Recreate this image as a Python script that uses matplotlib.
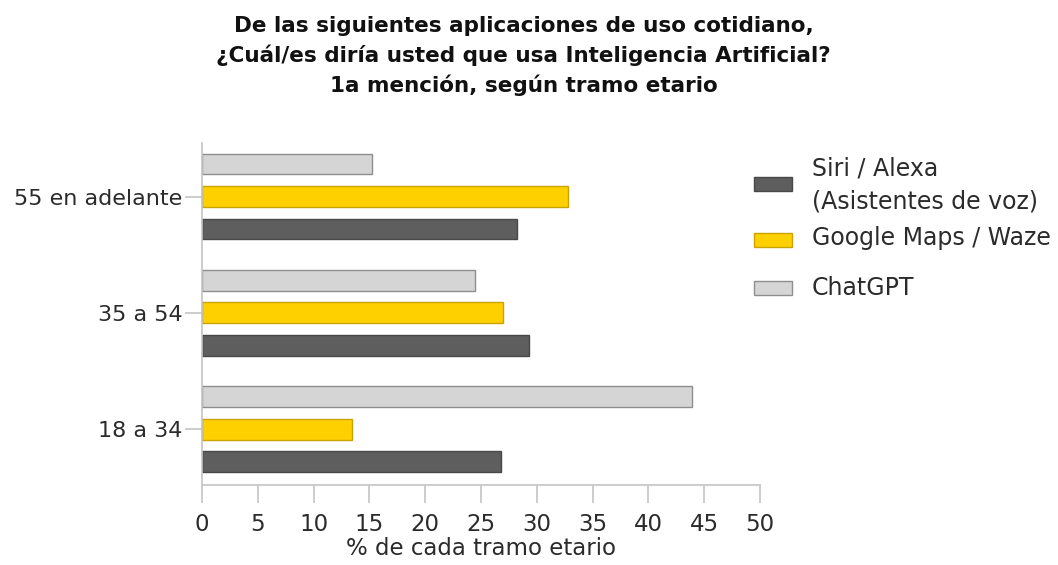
import numpy as np
import matplotlib
matplotlib.use('Agg')
import matplotlib.pyplot as plt
from matplotlib.patches import Rectangle

plt.rcParams['font.family'] = ['DejaVu Sans']

# ---------------------------------------------------------------
# DATA
# ---------------------------------------------------------------
age_groups = ['18 a 34', '35 a 54', '55 en adelante']
siri_alexa = [26.8, 29.3, 28.2]
google_maps = [13.4, 27.0, 32.8]
chatgpt = [43.9, 24.5, 15.2]

series_labels = ['Siri / Alexa\n(Asistentes de voz)', 'Google Maps / Waze', 'ChatGPT']
x_ticks = [0, 5, 10, 15, 20, 25, 30, 35, 40, 45, 50]

title = ('De las siguientes aplicaciones de uso cotidiano,\n'
         '¿Cuál/es diría usted que usa Inteligencia Artificial?\n'
         '1a mención, según tramo etario')
x_label = '% de cada tramo etario'

# ---------------------------------------------------------------
# STYLE
# ---------------------------------------------------------------
fills = ['#5e5e5e', '#ffd000', '#d5d5d5']
edges = ['#484848', '#c9a300', '#8e8e8e']
axis_grey = '#c4c4c4'
text_col = '#2b2b2b'
W, H = 1058, 565

fig = plt.figure(figsize=(W / 100, H / 100), dpi=100)
ax = fig.add_axes([202 / W, 80 / H, 558 / W, 342 / H])

y = np.arange(len(age_groups))
bar_h = 0.178
offset = 0.279

ax.barh(y - offset, siri_alexa, height=bar_h, color=fills[0], edgecolor=edges[0], linewidth=1)
ax.barh(y, google_maps, height=bar_h, color=fills[1], edgecolor=edges[1], linewidth=1)
ax.barh(y + offset, chatgpt, height=bar_h, color=fills[2], edgecolor=edges[2], linewidth=1)

ax.set_xlim(0, 50)
ax.set_ylim(-0.48, 2.46)
ax.set_xticks(x_ticks)
ax.set_xticklabels([str(t) for t in x_ticks], fontsize=16.5, color=text_col)
ax.set_yticks(y)
ax.set_yticklabels(age_groups, fontsize=16, color=text_col)

for s in ['top', 'right']:
    ax.spines[s].set_visible(False)
for s in ['left', 'bottom']:
    ax.spines[s].set_color(axis_grey)
    ax.spines[s].set_linewidth(1.2)

ax.tick_params(axis='x', length=13, width=1.2, color=axis_grey, pad=7)
ax.tick_params(axis='y', length=12, width=1.2, color=axis_grey, pad=2)

ax.set_xlabel(x_label, fontsize=16.5, color=text_col, labelpad=1)

fig.text(0.495, 1 - 16 / H, title, ha='center', va='top', fontsize=15.5,
         fontweight='bold', color='#111111', linespacing=1.48)

# legend, placed by hand (pixel positions from the reference)
patch_y = [184, 240, 288]
text_y = [185, 238, 288]
for i in range(3):
    fig.patches.append(Rectangle((754 / W, 1 - (patch_y[i] + 7) / H), 38 / W, 14 / H,
                                 transform=fig.transFigure, facecolor=fills[i],
                                 edgecolor=edges[i], linewidth=1))
    fig.text(812 / W, 1 - text_y[i] / H, series_labels[i], ha='left', va='center',
             fontsize=17, color=text_col, linespacing=1.45)

fig.savefig('out.png', dpi=100)
